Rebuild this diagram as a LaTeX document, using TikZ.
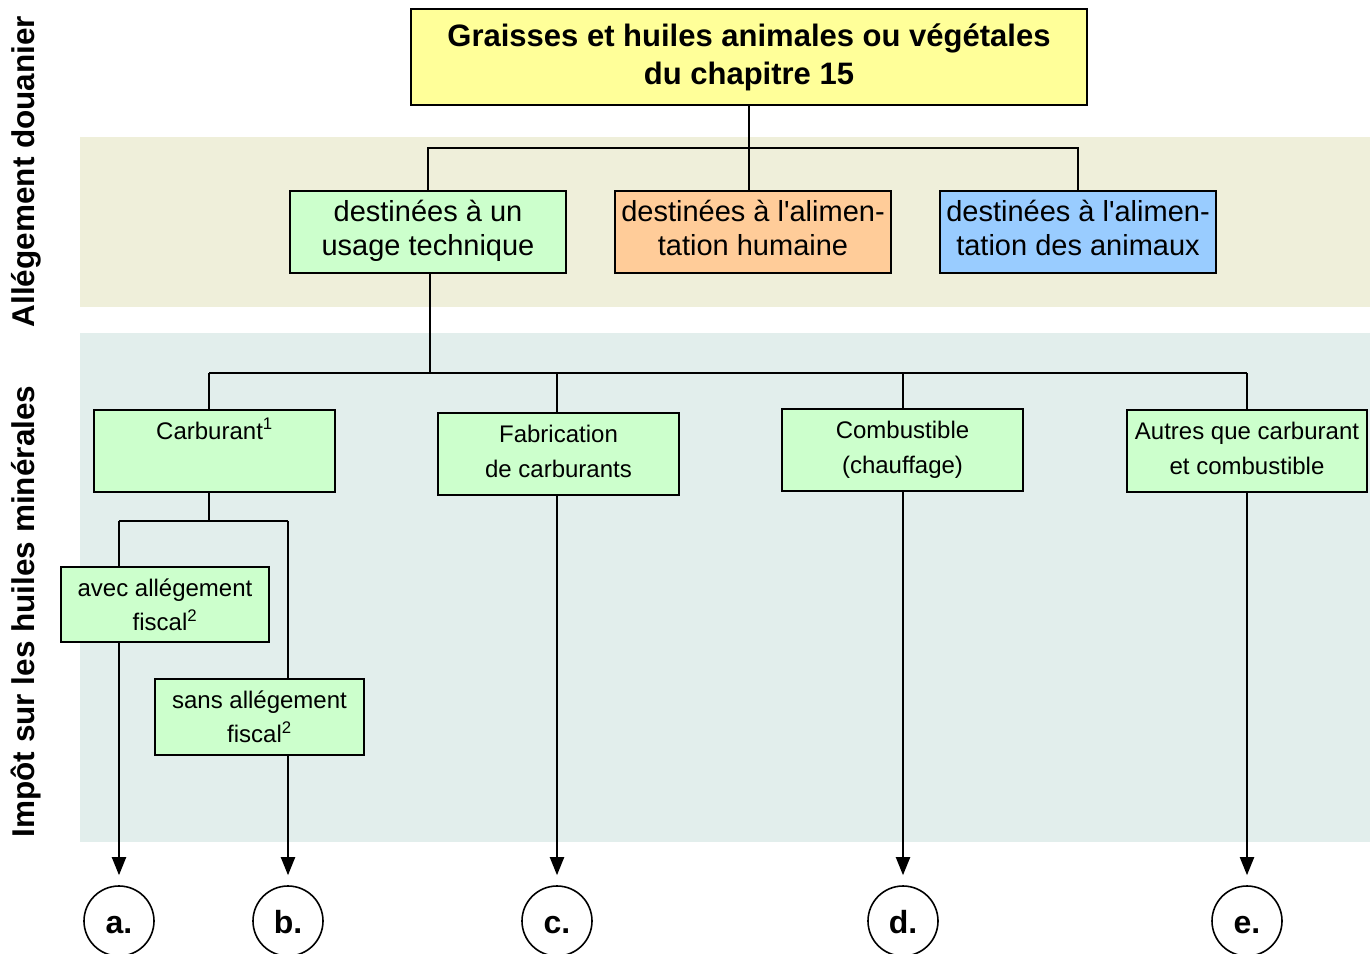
\documentclass[tikz,border=0pt]{standalone}
\usepackage{fontspec}
\newfontfamily\arial{Liberation Sans}
\usetikzlibrary{arrows.meta}
\definecolor{bandA}{RGB}{239,239,218}
\definecolor{bandB}{RGB}{226,238,236}
\definecolor{ylw}{RGB}{255,255,153}
\definecolor{grn}{RGB}{204,255,204}
\definecolor{org}{RGB}{255,204,153}
\definecolor{blu}{RGB}{153,204,255}
\newcommand{\bstrut}{\rule[-10.5pt]{0pt}{34pt}}
\newcommand{\sstrut}{\rule[-12pt]{0pt}{35pt}}
\tikzset{
  box/.style={draw=black, line width=1.6pt, inner sep=0pt, align=center},
  titlebox/.style={box, fill=ylw, minimum width=676pt, minimum height=96pt,
    font=\arial\bfseries\fontsize{31}{38}\selectfont},
  bigbox/.style={box, minimum width=276pt, minimum height=82pt,
    font=\arial\fontsize{29}{34}\selectfont},
  smallbox/.style={box, fill=grn, minimum width=241pt, minimum height=82pt,
    font=\arial\fontsize{24}{35}\selectfont},
  subbox/.style={box, fill=grn, minimum width=208pt, minimum height=75pt,
    font=\arial\fontsize{24}{34}\selectfont},
  link/.style={line width=2pt},
  arr/.style={link, -{Triangle[length=18pt,width=14pt]}, shorten >=10pt},
  lbl/.style={draw, circle, line width=1.6pt, minimum size=70pt, inner sep=0pt,
    text height=24pt, text depth=0pt,
    font=\arial\bfseries\fontsize{32}{38}\selectfont},
  side/.style={rotate=90, font=\arial\bfseries\fontsize{31.5}{38}\selectfont}
}
\begin{document}
\begin{tikzpicture}[x=1pt,y=-1pt]
\useasboundingbox (0,0) rectangle (1370,953);
% bands
\fill[bandA] (80,137) rectangle (1370,307);
\fill[bandB] (80,333) rectangle (1370,842);
% side labels
\node[side] (sideA) at (26,171.5) {Allégement douanier};
\node[side] (sideB) at (26,611.5) {Impôt sur les huiles minérales};
% top
\node[titlebox] (title) at (749,57) {Graisses et huiles animales ou végétales\\du chapitre 15};
\node[bigbox, fill=grn] (tech) at (428,232) {\bstrut destinées à un\\\bstrut usage technique};
\node[bigbox, fill=org] (hum) at (753,232) {\bstrut destinées à l'alimen-\\\bstrut tation humaine};
\node[bigbox, fill=blu] (anim) at (1078,232) {\bstrut destinées à l'alimen-\\\bstrut tation des animaux};
% second level
\node[smallbox] (carb) at (214.5,451) {\sstrut Carburant\textsuperscript{1}\\\sstrut~};
\node[smallbox] (fab) at (558.5,454) {\sstrut Fabrication\\\sstrut de carburants};
\node[smallbox] (comb) at (902.5,450) {\sstrut Combustible\\\sstrut (chauffage)};
\node[smallbox, minimum width=240pt] (aut) at (1247,451) {\sstrut Autres que carburant\\\sstrut et combustible};
\node[subbox] (avec) at (165,604.5) {avec allégement\\fiscal\textsuperscript{2}};
\node[subbox, minimum width=209pt, minimum height=76pt] (sans) at (259.5,717) {sans allégement\\fiscal\textsuperscript{2}};
% circles
\node[lbl] (a) at (119,921) {a.};
\node[lbl] (b) at (288,921) {b.};
\node[lbl] (c) at (557,921) {c.};
\node[lbl] (d) at (903,921) {d.};
\node[lbl] (e) at (1247,921) {e.};
% connectors top
\draw[link] (title.south) -- (title.south |- hum.north);
\draw[link] (tech.north) -- ++(0,-42) -| (anim.north);
\draw[link] ([xshift=2pt]tech.south) -- ++(0,99) coordinate (hub);
\coordinate (cj) at ([xshift=-5.5pt]carb.north);
\coordinate (cb) at ([xshift=-5.5pt]carb.south);
\draw[link] (cj |- hub) -- (aut.north |- hub);
\draw[link] (cj |- hub) -- (cj);
\draw[link] (c |- hub) -- (c |- fab.north);
\draw[link] (d |- hub) -- (d |- comb.north);
\draw[link] (e |- hub) -- (e |- aut.north);
% carburant split
\draw[link] (cb) -- ++(0,28) coordinate (cj2);
\draw[link] (a |- cj2) -- (b |- cj2);
\draw[link] (a |- cj2) -- (a |- avec.north);
\draw[link] (b |- cj2) -- (b |- sans.north);
% arrows
\draw[arr] (a |- avec.south) -- (a.north);
\draw[arr] (b |- sans.south) -- (b.north);
\draw[arr] (c |- fab.south) -- (c.north);
\draw[arr] (d |- comb.south) -- (d.north);
\draw[arr] (e |- aut.south) -- (e.north);
\end{tikzpicture}
\end{document}
